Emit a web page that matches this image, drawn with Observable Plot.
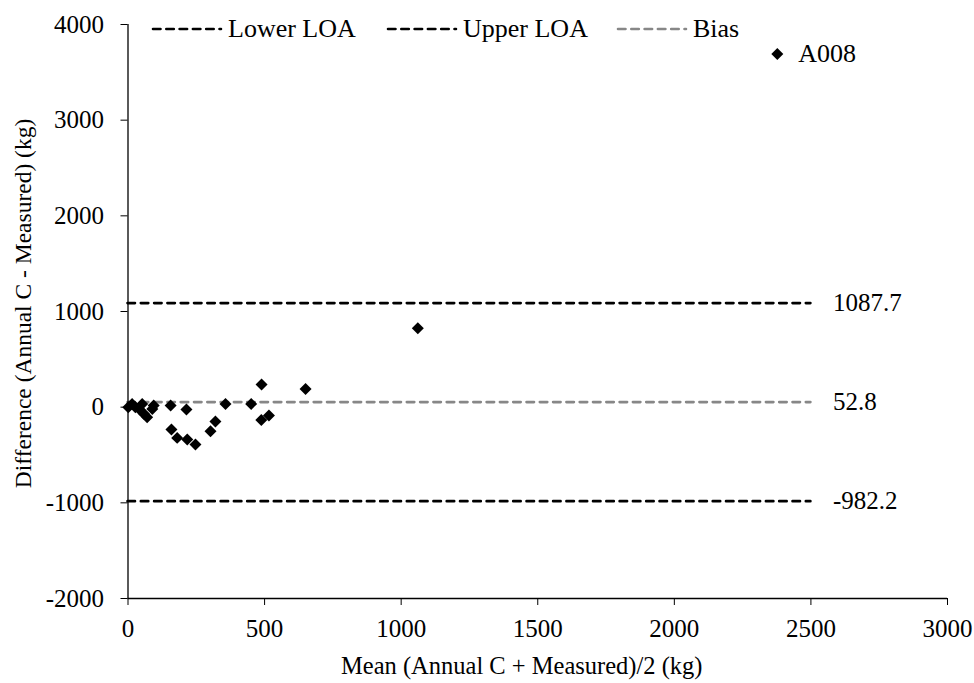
<!DOCTYPE html>
<html>
<head>
<meta charset="utf-8">
<script src="https://cdn.jsdelivr.net/npm/d3@7"></script>
<script src="https://cdn.jsdelivr.net/npm/@observablehq/plot@0.6"></script>
<style>
  html, body { margin: 0; padding: 0; background: #fff; }
  #wrap { position: relative; width: 974px; height: 683px; font-family: "Liberation Serif", "Times New Roman", Times, Tinos, "Noto Serif", FreeSerif, "DejaVu Serif", serif; }
  #chart svg, #chart svg text { font-family: "Liberation Serif", "Times New Roman", Times, Tinos, "Noto Serif", FreeSerif, "DejaVu Serif", serif !important; }
  #legend { position: absolute; top: 12px; left: 0; width: 974px; height: 34px; font-size: 26px; color: #000; }
  .item { position: absolute; top: 0; display: flex; align-items: center; white-space: nowrap; }
  .item svg { display: block; margin-right: 3px; }
</style>
</head>
<body>
<div id="wrap">
  <div id="chart"></div>
  <div id="legend"></div>
</div>
<script>
// Bland-Altman data: mean (x) and difference (y), kg
const meanX = [1, 15, 27, 52, 46, 58, 70, 94, 89, 156, 214, 357, 451, 489, 650, 159, 180, 217, 247, 302, 320, 488, 516, 1061, 2377];
const diffY = [0, 34, 0, 34, -35, -70, -105, 17, -18, 17, -25, 34, 34, 236, 191, -234, -321, -339, -391, -252, -150, -133, -88, 825, 3692];
const pointLabels = ["", "", "", "", "", "", "", "", "", "", "", "", "", "", "", "", "", "", "", "", "", "", "", "", "A008"];

// Reference lines
const lineNames = ["Lower LOA", "Upper LOA", "Bias"];
const lineValues = [-982.2, 1087.7, 52.8];
const lineColors = ["#000000", "#000000", "#878787"];
const lineExtent = [0, 2500];

// Axes
const xTicks = [0, 500, 1000, 1500, 2000, 2500, 3000];
const yTicks = [-2000, -1000, 0, 1000, 2000, 3000, 4000];
const xTitle = "Mean (Annual C + Measured)/2 (kg)";
const yTitle = "Difference (Annual C - Measured) (kg)";

const points = meanX.map((x, i) => ({x, y: diffY[i], label: pointLabels[i]}));
const lines = lineNames.map((name, i) => ({name, value: lineValues[i], color: lineColors[i]}));

const dash = "7.5,5.8";
const serif = "'Liberation Serif', 'Times New Roman', Times, Tinos, 'Noto Serif', FreeSerif, 'DejaVu Serif', serif";

const chart = Plot.plot({
  width: 974,
  height: 683,
  marginLeft: 127.5,
  marginRight: 27,
  marginTop: 24,
  marginBottom: 85,
  style: { fontFamily: serif, fontSize: "25px", color: "#000", background: "#fff", overflow: "visible" },
  x: { domain: [0, 3000], ticks: xTicks, tickFormat: d => String(d), tickSize: 7, tickPadding: 14, label: null },
  y: { domain: [-2000, 4000], ticks: yTicks, tickFormat: d => String(d), tickSize: 7, tickPadding: 17, label: null },
  marks: [
    Plot.ruleY(lines, { y: "value", x1: lineExtent[0], x2: lineExtent[1], stroke: "color", strokeWidth: 2.6, strokeDasharray: dash, strokeLinecap: "round" }),
    Plot.text(lines, { y: "value", x: lineExtent[1], text: d => d.value.toFixed(1), dx: 22, textAnchor: "start", fontSize: 25, fill: "#000" }),
    Plot.ruleX([0], { y1: -2000, y2: 4000, stroke: "#000", strokeWidth: 1.3 }),
    Plot.ruleY([-2000], { x1: 0, x2: 3000, stroke: "#000", strokeWidth: 1.3 }),
    Plot.dot(points, { x: "x", y: "y", symbol: "diamond2", r: 5.4, fill: "#000", stroke: "none" }),
    Plot.text(points.filter(d => d.label), { x: "x", y: "y", text: "label", dx: 21, textAnchor: "start", fontSize: 26, fill: "#000" }),
    // axis titles
    Plot.text([xTitle], { frameAnchor: "bottom", text: d => d, dx: -16, dy: 68, lineAnchor: "middle", textAnchor: "middle", fontSize: 24.5, fill: "#000" }),
    Plot.text([yTitle], { frameAnchor: "left", text: d => d, rotate: -90, dx: -105, dy: -8, lineAnchor: "middle", textAnchor: "middle", fontSize: 23.5, fill: "#000" })
  ]
});
document.getElementById("chart").appendChild(chart);

// Legend (inside top of plot area)
const legendLeft = [151, 386, 616];
const legend = document.getElementById("legend");
lines.forEach((l, i) => {
  const item = document.createElement("div");
  item.className = "item";
  item.style.left = legendLeft[i] + "px";
  item.innerHTML = `<svg width="74" height="34"><line x1="2" y1="17" x2="70" y2="17" stroke="${l.color}" stroke-width="2.6" stroke-dasharray="${dash}" stroke-linecap="round"/></svg><span>${l.name}</span>`;
  legend.appendChild(item);
});
</script>
</body>
</html>
